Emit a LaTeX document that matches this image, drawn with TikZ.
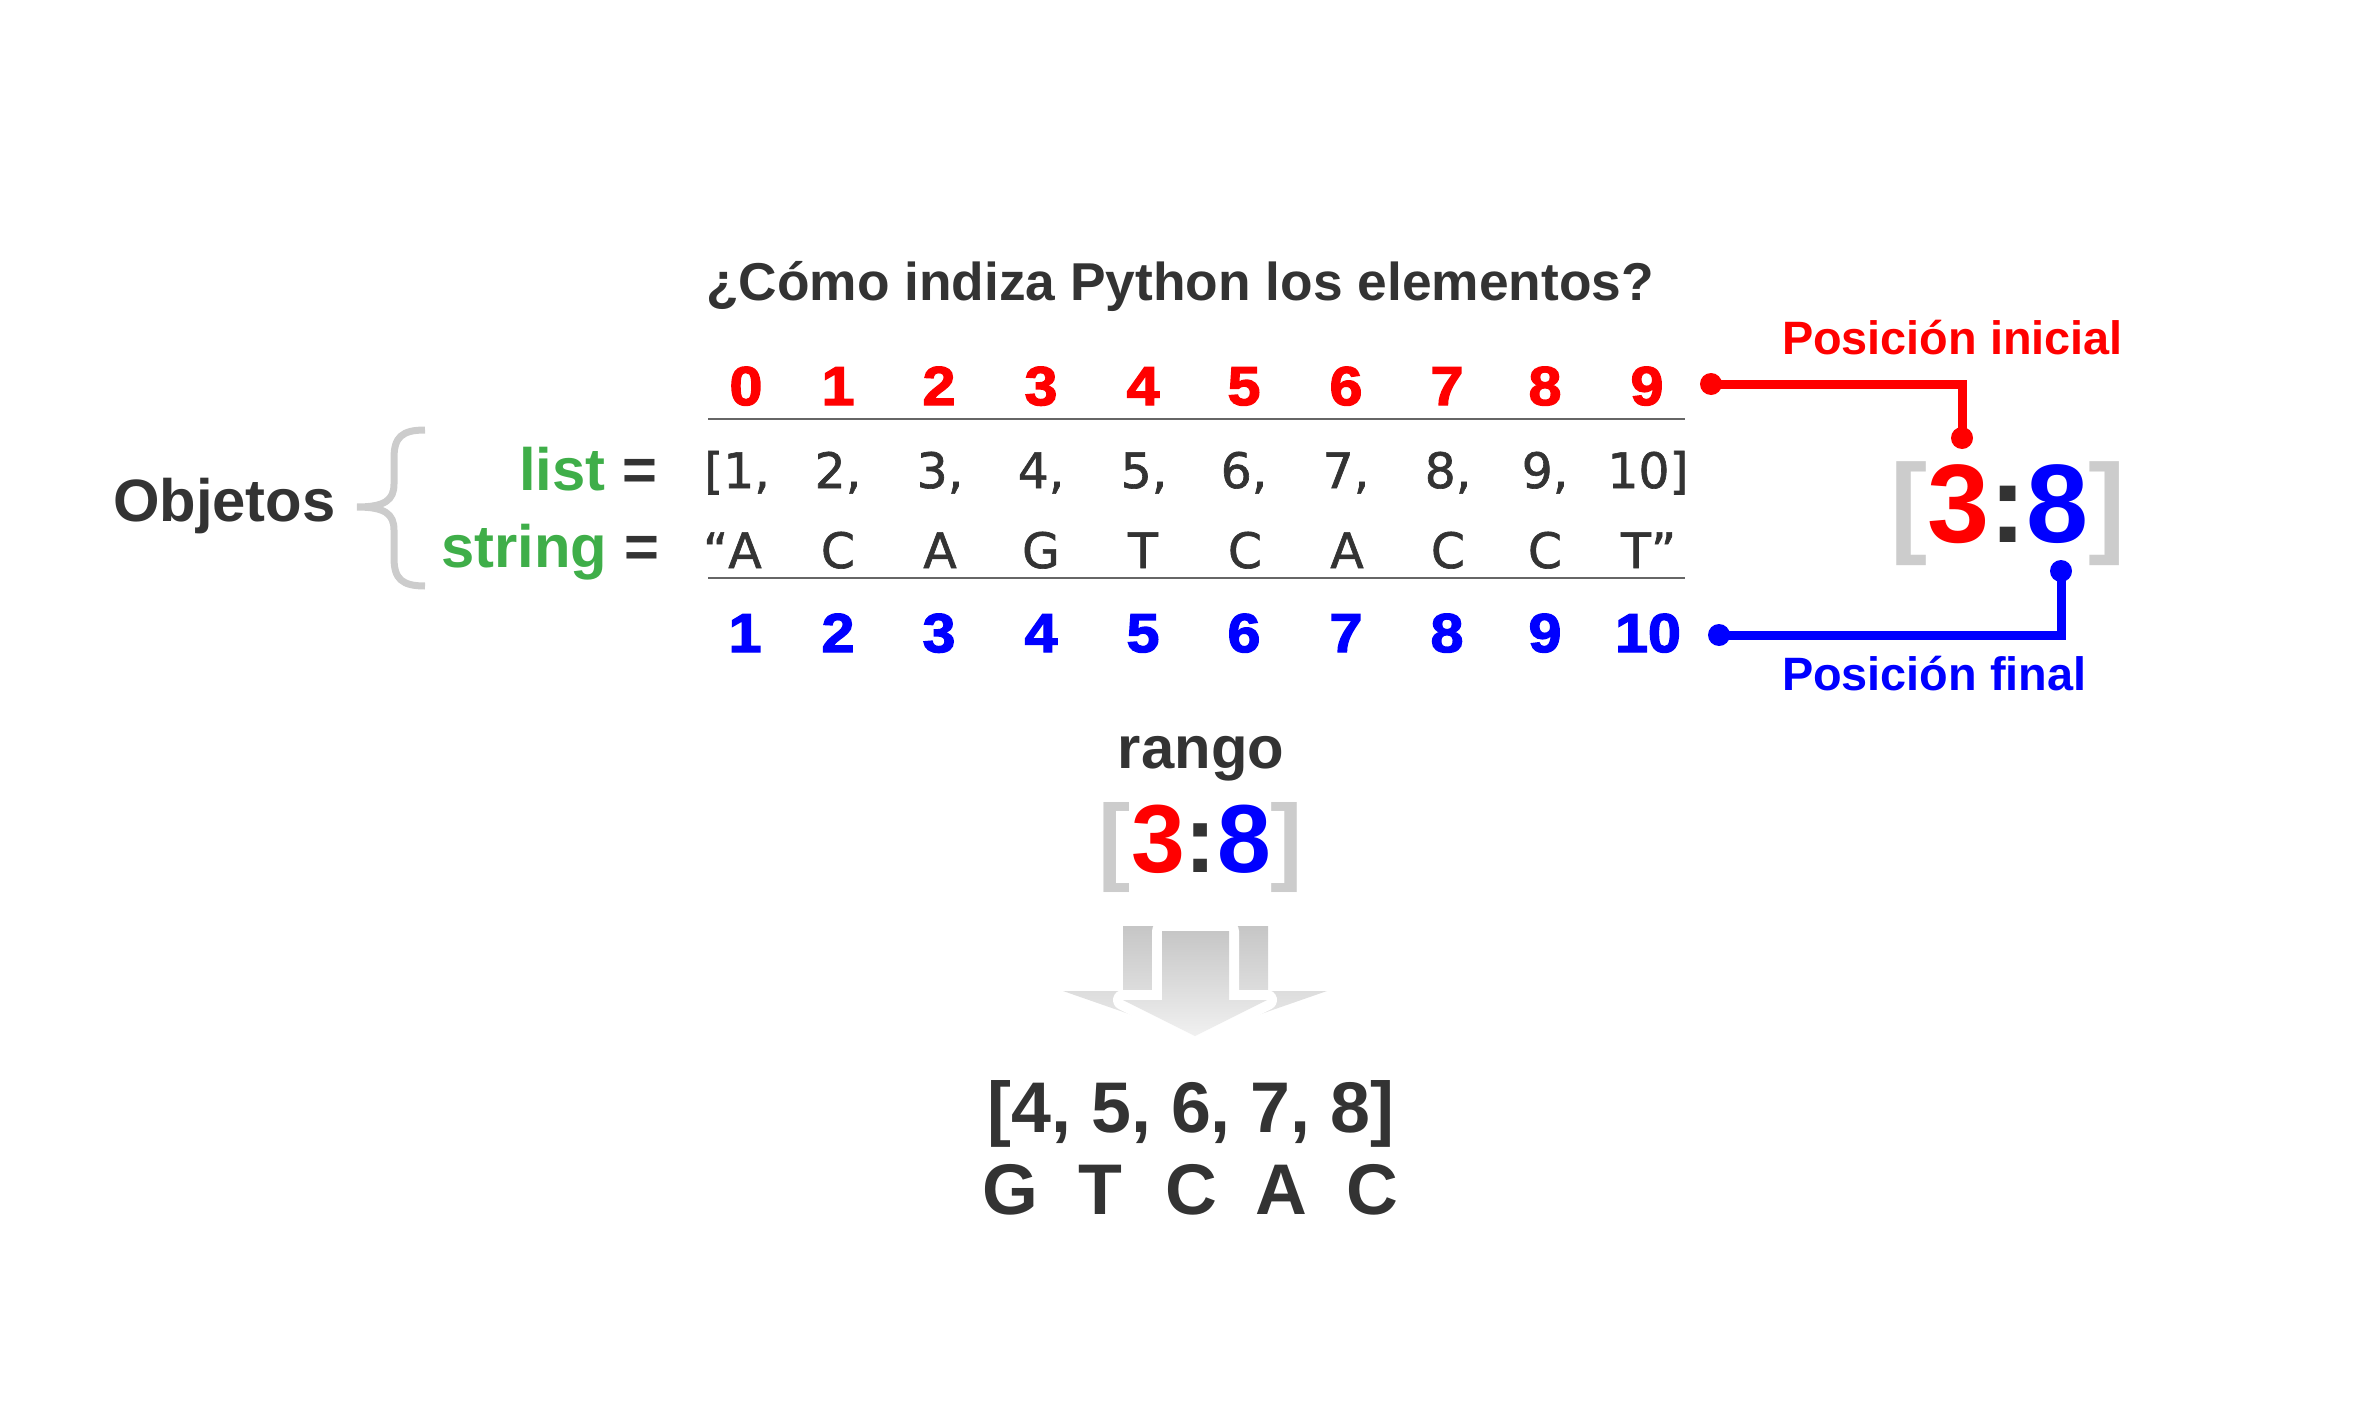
\documentclass[tikz,border=0pt]{standalone}
\usepackage{fontspec}
\setmainfont{Liberation Sans}
\newfontfamily\elemf[FakeBold=1.3]{DejaVu Sans}
\newfontfamily\heavyf[FakeBold=2.5,FakeStretch=1.08]{Liberation Sans Bold}
\definecolor{txt}{HTML}{333333}
\definecolor{grn}{RGB}{63,174,73}
\definecolor{brk}{HTML}{CCCCCC}
\definecolor{rd}{HTML}{FF0000}
\definecolor{bl}{HTML}{0000FF}
\definecolor{arrtop}{HTML}{C6C6C6}
\definecolor{arrbot}{HTML}{EDEDED}
\definecolor{rulec}{HTML}{666666}
\begin{document}
\begin{tikzpicture}[x=1bp,y=-1bp,
  every node/.style={inner sep=0pt, outer sep=0pt},
  titletxt/.style={text=txt, font=\fontsize{53.5}{60}\selectfont\bfseries, anchor=base},
  idxr/.style={text=rd, font=\heavyf\fontsize{55}{60}\selectfont, anchor=base},
  idxb/.style={text=bl, font=\heavyf\fontsize{55}{60}\selectfont, anchor=base},
  elem/.style={text=txt, font=\elemf\fontsize{49}{55}\selectfont, anchor=base},
  lbl/.style={text=grn, font=\fontsize{60}{70}\selectfont\bfseries, anchor=base east},
  postxt/.style={font=\fontsize{47}{52}\selectfont\bfseries, anchor=base west},
  dotr/.style={circle, fill=rd, minimum size=22bp},
  dotb/.style={circle, fill=bl, minimum size=22bp},
  conn/.style={line width=9bp}
]
\useasboundingbox (0,0) rectangle (2362,1417);

% title
\node[titletxt] (title) at (1180,301) {¿Cómo indiza Python los elementos?};

% index rows
\foreach \i/\x in {0/746,1/838,2/939,3/1041,4/1143,5/1244,6/1346,7/1447,8/1545,9/1647}
  \node[idxr] (r\i) at (\x,405) {\i};
\foreach \i/\x in {1/745,2/838,3/939,4/1041,5/1143,6/1244,7/1346,8/1447,9/1545,10/1648}
  \node[idxb] (b\i) at (\x,652) {\i};

% rules
\coordinate (l1a) at (708,419); \coordinate (l1b) at (1685,419);
\coordinate (l2a) at (708,578); \coordinate (l2b) at (1685,578);
\draw[rulec, line width=2bp] (l1a) -- (l1b);
\draw[rulec, line width=2bp] (l2a) -- (l2b);

% list row
\node[elem] (e1) at (737,488) {[1,};
\foreach \i/\x in {2/838,3/940,4/1041,5/1144,6/1244,7/1346,8/1448,9/1545}
  \node[elem] (e\i) at (\x,488) {\i,};
\node[elem] (e10) at (1648,488) {10]};

% string row
\foreach \n/\c/\x in {1/A/745,2/C/838,3/A/940,4/G/1041,5/T/1143,6/C/1245,7/A/1347,8/C/1448,9/C/1545}
  \node[elem] (s\n) at (\x,568) {\ifnum\n=1 \llap{“}\fi\c};
\node[elem] (s10) at (1636,568) {T\rlap{”}};

% labels
\node[lbl] (listlbl) at (657,490) {list \textcolor{txt}{=}};
\node[lbl] (strlbl) at (659,567) {string \textcolor{txt}{=}};
\node[text=txt, font=\fontsize{60}{70}\selectfont\bfseries, anchor=base west] (obj) at (113,521) {Objetos};

% brace
\draw[brk, line width=7bp] (425,430) .. controls (402,430) and (394,437) .. (394,458)
  -- (394,484) .. controls (394,500) and (385,507) .. (357,507)
  .. controls (385,507) and (394,514) .. (394,530)
  -- (394,558) .. controls (394,579) and (402,586) .. (425,586);

% position labels
\node[postxt, text=rd] (pini) at (1782,354) {Posición inicial};
\node[postxt, text=bl] (pfin) at (1782,690) {Posición final};

% big slice
\node[font=\fontsize{112}{120}\selectfont\bfseries, anchor=base] (bigslice) at (2008,542)
  {\textcolor{brk}{[}\textcolor{rd}{3}\textcolor{txt}{:}\textcolor{bl}{8}\textcolor{brk}{]}};

% connectors
\node[dotr] (ra) at (1711,384) {};
\node[dotr] (rb) at (1962,438) {};
\draw[rd, conn] (ra.center) -| (rb.center);
\node[dotb] (ba) at (2061,571) {};
\node[dotb] (bb) at (1719,635) {};
\draw[bl, conn] (ba.center) |- (bb.center);

% rango
\node[text=txt, font=\fontsize{60}{70}\selectfont\bfseries, anchor=base] (rango) at (1201,768) {rango};
\node[font=\fontsize{97}{105}\selectfont\bfseries, anchor=base] (smallslice) at (1201,872)
  {\textcolor{brk}{[}\textcolor{rd}{3}\textcolor{txt}{:}\textcolor{bl}{8}\textcolor{brk}{]}};

% arrow
\path[top color=arrtop, bottom color=arrbot] (1123,926) -- (1268,926) -- (1268,991) -- (1327,991)
  -- (1195,1037) -- (1063,991) -- (1123,991) -- cycle;
\path[draw=white, line width=20bp, line join=round] (1162,931) -- (1229,931) -- (1229,1000) -- (1267,1000)
  -- (1195,1036) -- (1123,1000) -- (1162,1000) -- cycle;
\path[top color=arrtop, bottom color=arrbot!80!white] (1162,931) -- (1229,931) -- (1229,1000) -- (1267,1000)
  -- (1195,1036) -- (1123,1000) -- (1162,1000) -- cycle;

% results
\node[text=txt, font=\fontsize{72}{80}\selectfont\bfseries, anchor=base] (reslist) at (1191,1132) {[4, 5, 6, 7, 8]};
\node[text=txt, font=\fontsize{72}{80}\selectfont\bfseries, anchor=base] (resstr) at (1191,1214)
  {\makebox[90.5bp]{G}\makebox[90.5bp]{T}\makebox[90.5bp]{C}\makebox[90.5bp]{A}\makebox[90.5bp]{C}};
\end{tikzpicture}
\end{document}
